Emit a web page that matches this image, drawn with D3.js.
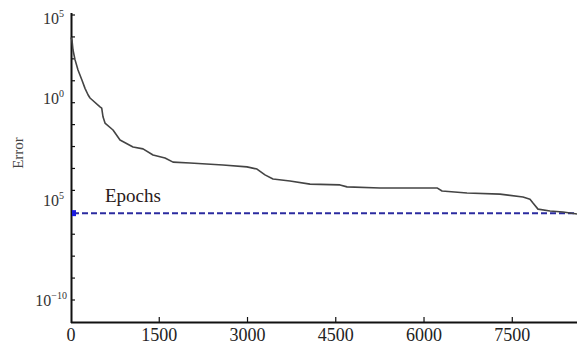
<!DOCTYPE html>
<html><head><meta charset="utf-8">
<script src="https://cdn.jsdelivr.net/npm/d3@7"></script>
<style>body{margin:0;background:#fff}svg{display:block}</style>
</head><body>
<svg id="c" width="577" height="352"></svg>
<script>
// Data
const epochs = [0, 17, 34, 68, 119, 187, 238, 289, 323, 493, 522, 544, 578, 714, 833, 1054, 1224, 1394, 1598, 1734, 2023, 2583, 2991, 3161, 3297, 3433, 3722, 4062, 4572, 4691, 5252, 6221, 6306, 6730, 7291, 7682, 7801, 7852, 7937, 8141, 8362, 8600];
const errors = [6e3, 4e3, 1e3, 2.5e2, 56, 13, 4, 1.6, 1, 0.37, 0.32, 0.12, 0.059, 0.027, 8.7e-3, 4e-3, 3.2e-3, 1.6e-3, 1.15e-3, 7.2e-4, 6.5e-4, 5.2e-4, 4.2e-4, 3.3e-4, 1.7e-4, 1.07e-4, 8.5e-5, 6e-5, 5.5e-5, 4.4e-5, 3.9e-5, 3.9e-5, 2.75e-5, 2.2e-5, 1.95e-5, 1.4e-5, 1.1e-5, 7e-6, 3.5e-6, 2.8e-6, 2.5e-6, 2e-6];
const goal = 2.2e-6;
const xTicks = [0, 1500, 3000, 4500, 6000, 7500];
const yTickValues = [1e5, 1e0, 1e-5, 1e-10];
const yTickLabels = [["10", "5"], ["10", "0"], ["10", "5"], ["10", "\u221210"]];
const yMinorCount = 14;

const svg = d3.select("#c");
const x = d3.scaleLinear().domain([0, 8600]).range([71, 577]);
const y = d3.scaleLog().domain([1e5, 1e0, 1e-5, 1e-10]).range([18, 98, 200, 300]);
const yMinor = d3.scaleLinear().domain([0, yMinorCount - 1]).range([15, 300]);

const axisColor = "#111";
const font = "'Liberation Serif','Times New Roman',serif";

// Y axis line
svg.append("line").attr("x1", 71.5).attr("x2", 71.5).attr("y1", 13).attr("y2", 323)
  .attr("stroke", axisColor).attr("stroke-width", 2);
// X axis line
svg.append("line").attr("x1", 71).attr("x2", 577).attr("y1", 322.5).attr("y2", 322.5)
  .attr("stroke", axisColor).attr("stroke-width", 2);

// Y minor ticks
svg.selectAll(".ym").data(d3.range(yMinorCount)).enter().append("line")
  .attr("x1", 72).attr("x2", 75)
  .attr("y1", d => yMinor(d)).attr("y2", d => yMinor(d))
  .attr("stroke", axisColor).attr("stroke-width", 1.2);

// X ticks
svg.selectAll(".xt").data(xTicks.slice(1)).enter().append("line")
  .attr("x1", d => x(d)).attr("x2", d => x(d))
  .attr("y1", 322).attr("y2", 317)
  .attr("stroke", axisColor).attr("stroke-width", 1.2);
svg.selectAll(".xl").data(xTicks).enter().append("text")
  .attr("x", d => x(d)).attr("y", 341)
  .attr("text-anchor", "middle")
  .attr("font-family", font).attr("font-size", 18).attr("fill", "#222")
  .text(d => d);

// Y tick labels
yTickValues.forEach((v, i) => {
  const t = svg.append("text")
    .attr("x", i === 3 ? 67 : 64).attr("y", y(v) + 6)
    .attr("text-anchor", "end")
    .attr("font-family", font).attr("font-size", 16).attr("fill", "#333");
  t.append("tspan").text(yTickLabels[i][0]);
  t.append("tspan").attr("dy", -7).attr("font-size", 10).text(yTickLabels[i][1]);
});

// Axis title
svg.append("text")
  .attr("transform", "translate(23,153) rotate(-90)")
  .attr("text-anchor", "middle")
  .attr("font-family", font).attr("font-size", 15).attr("fill", "#444")
  .text("Error");

// Goal line
svg.append("line").attr("x1", x(0) + 2).attr("x2", 577)
  .attr("y1", y(goal)).attr("y2", y(goal))
  .attr("stroke", "#2b2ba0").attr("stroke-width", 2)
  .attr("stroke-dasharray", "6,3");
svg.append("rect").attr("x", x(0) + 1).attr("y", y(goal) - 3)
  .attr("width", 4).attr("height", 6).attr("fill", "#1a1ae0");

svg.append("text").attr("x", 105).attr("y", 202)
  .attr("font-family", font).attr("font-size", 19).attr("fill", "#2a1a1a")
  .text("Epochs");

// Error curve
const line = d3.line().x((d, i) => x(epochs[i])).y(d => y(d));
svg.append("path").datum(errors)
  .attr("d", line)
  .attr("fill", "none").attr("stroke", "#444").attr("stroke-width", 1.6)
  .attr("stroke-linejoin", "round");
</script>
</body></html>
